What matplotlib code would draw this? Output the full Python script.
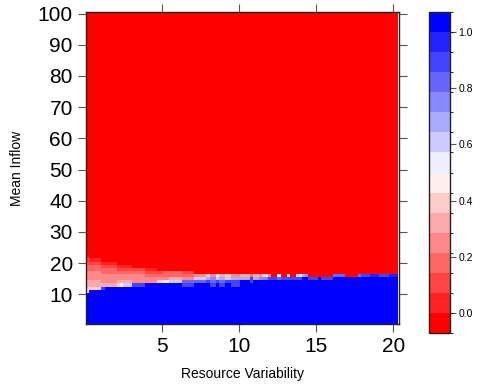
import numpy as np
import matplotlib
matplotlib.use("Agg")
import matplotlib.pyplot as plt
from matplotlib.colors import ListedColormap, BoundaryNorm, LinearSegmentedColormap

plt.rcParams["font.family"] = ["Liberation Sans", "DejaVu Sans"]

# grid of the level plot
x_vals = np.round(np.arange(1, 102) * 0.2, 1)   # Resource Variability 0.2 .. 20.2
y_vals = np.arange(1, 101)                      # Mean Inflow 1 .. 100

# below the transition everything is 1 (blue), above it 0 (red)
blue_below_row = 11
red_above_row = 22

# transition band: number of columns in each block,
# and values for rows 11..22 of that block (missing rows on top are 0)
seg_cols = [1, 4, 1, 4, 1, 1, 3, 4, 4, 2, 2, 4, 4, 4, 1, 2, 1, 2, 2, 3,
            3, 1, 2, 1, 2, 1, 2, 1, 2, 1, 2, 1, 1, 1, 1, 3, 1, 4, 4, 4,
            1, 3, 3, 3, 3]
seg_vals = [
    [0.46, 0.4, 0.32, 0.32, 0.25, 0.25, 0.25, 0.18, 0.18, 0.1, 0.1, 0.03],
    [1, 0.4, 0.32, 0.32, 0.25, 0.25, 0.25, 0.18, 0.18, 0.1, 0.03],
    [1, 0.9, 0.32, 0.25, 0.25, 0.25, 0.18, 0.18, 0.1, 0.03],
    [1, 1, 0.32, 0.25, 0.25, 0.25, 0.18, 0.18, 0.1, 0.03],
    [1, 1, 0.4, 0.32, 0.25, 0.25, 0.18, 0.1, 0.03],
    [1, 1, 0.46, 0.32, 0.25, 0.25, 0.18, 0.1, 0.03],
    [1, 1, 0.6, 0.32, 0.25, 0.25, 0.18, 0.1, 0.03],
    [1, 1, 0.9, 0.25, 0.25, 0.25, 0.18, 0.1],
    [1, 1, 1, 0.25, 0.25, 0.18, 0.1, 0.03],
    [1, 1, 1, 0.4, 0.25, 0.18, 0.1],
    [1, 1, 1, 0.46, 0.25, 0.18, 0.18],
    [1, 1, 1, 0.6, 0.32, 0.18, 0.18],
    [1, 1, 0.9, 0.82, 0.25, 0.18, 0.1],
    [1, 1, 1, 0.82, 0.6, 0.25],
    [1, 1, 1, 0.9, 0.68, 0.4],
    [1, 1, 0.9, 0.82, 0.75, 0.25],
    [1, 1, 1, 0.9, 0.6, 0.46],
    [1, 1, 0.9, 0.82, 0.68, 0.32],
    [1, 1, 1, 0.9, 0.6, 0.4],
    [1, 1, 0.9, 0.9, 0.68, 0.25],
    [1, 1, 1, 1, 0.68, 0.32],
    [1, 1, 1, 0.9, 0.9, 0.18],
    [1, 1, 1, 1, 0.68, 0.32],
    [1, 1, 1, 1, 0.75, 0.25],
    [1, 1, 1, 1, 0.75, 0.4],
    [1, 1, 1, 1, 0.9, 0.25],
    [1, 1, 1, 1, 0.9, 0],
    [1, 1, 1, 1, 0.82, 0.46],
    [1, 1, 1, 1, 0.9, 0],
    [1, 1, 1, 1, 0.9, 0.4],
    [1, 1, 1, 1, 0.9, 0],
    [1, 1, 1, 1, 0.9, 0.6],
    [1, 1, 1, 1, 0.9, 0.53],
    [1, 1, 1, 1, 1, 0.68],
    [1, 1, 1, 1, 1, 0.75],
    [1, 1, 1, 1, 0.9, 0],
    [1, 1, 1, 1, 1, 0],
    [1, 1, 1, 1, 0.9, 0],
    [1, 1, 1, 1, 1, 0.82],
    [1, 1, 1, 1, 1, 0],
    [1, 1, 1, 1, 1, 0.82],
    [1, 1, 1, 1, 1, 0.9],
    [1, 1, 1, 1, 1, 0.96],
    [1, 1, 1, 1, 1, 0.9],
    [1, 1, 1, 1, 1, 0.96],
]

x_ticks = [5, 10, 15, 20]
y_ticks = [10, 20, 30, 40, 50, 60, 70, 80, 90, 100]
cbar_ticks = [0.0, 0.2, 0.4, 0.6, 0.8, 1.0]

# build matrix z[row, col]
n_band = red_above_row - blue_below_row + 1
band = np.zeros((n_band, 0))
for n, v in zip(seg_cols, seg_vals):
    col = np.zeros(n_band)
    col[:len(v)] = v
    band = np.hstack([band, np.repeat(col[:, None], n, axis=1)])

z = np.zeros((len(y_vals), len(x_vals)))
z[y_vals < blue_below_row, :] = 1
z[(y_vals >= blue_below_row) & (y_vals <= red_above_row), :] = band

# lattice-like colours: 16 levels red-white-blue over extended range
levels = np.linspace(-0.07, 1.07, 17)
ramp = LinearSegmentedColormap.from_list("rwb", ["#FF0000", "#FFFFFF", "#0000FF"])
cmap = ListedColormap([ramp(i / 15) for i in range(16)])
norm = BoundaryNorm(levels, cmap.N)

fig = plt.figure(figsize=(4.85, 3.85), dpi=100)
ax = fig.add_axes([86 / 485, 1 - 324 / 385, 313 / 485, 312 / 385])

x_edges = np.concatenate([x_vals - 0.1, [x_vals[-1] + 0.1]])
y_edges = np.concatenate([y_vals - 0.5, [y_vals[-1] + 0.5]])
mesh = ax.pcolormesh(x_edges, y_edges, z, cmap=cmap, norm=norm)

ax.set_xlim(x_edges[0], x_edges[-1] + 0.07)
ax.set_ylim(y_edges[0], y_edges[-1])
ax.set_xticks(x_ticks)
ax.set_yticks(y_ticks)
ax.tick_params(direction="out", length=5.5, width=0.8, color="#555555",
               labelsize=15, pad=4, top=True, right=True)
for s in ax.spines.values():
    s.set_linewidth(1.0)
    s.set_color("#222222")
ax.set_xlabel("Resource Variability", fontsize=10, labelpad=8)
ax.set_ylabel("Mean Inflow", fontsize=10, labelpad=10)

cax = fig.add_axes([429 / 485, 1 - 333 / 385, 21 / 485, 321 / 385])
cb = fig.colorbar(mesh, cax=cax, boundaries=levels, ticks=cbar_ticks)
cb.ax.set_yticklabels(["0.0", "0.2", "0.4", "0.6", "0.8", "1.0"])
cb.ax.tick_params(direction="out", length=4, width=0.8, color="#555555",
                  labelsize=7.5, pad=2)
cb.outline.set_linewidth(1.0)
cb.outline.set_edgecolor("#222222")

fig.savefig("out.png", dpi=100)
